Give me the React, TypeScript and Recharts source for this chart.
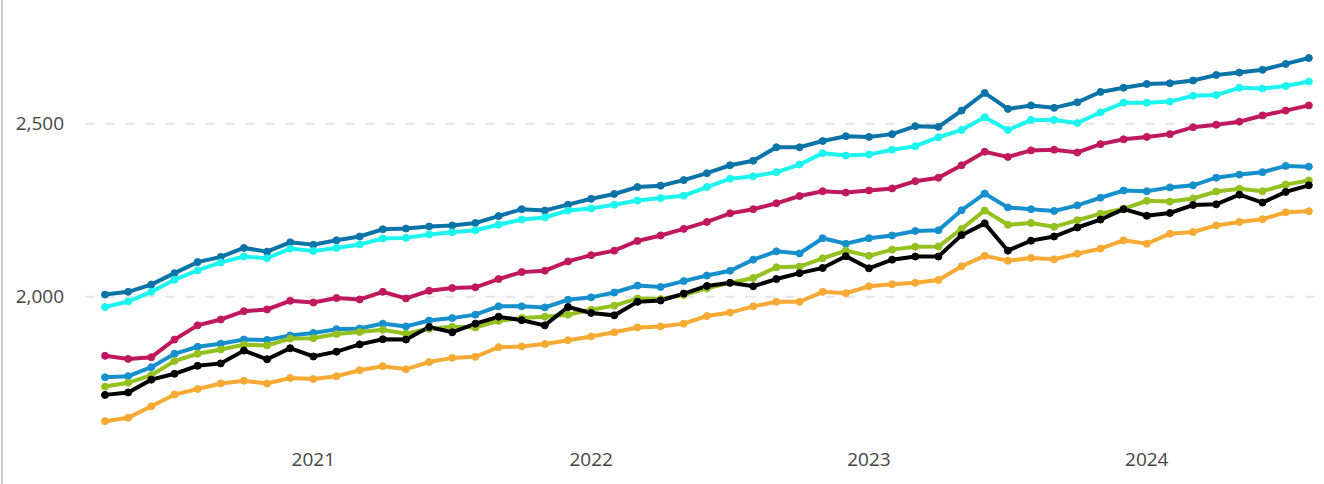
import { LineChart, Line, XAxis, YAxis, CartesianGrid } from "recharts";

const months = [
  "2020-04", "2020-05", "2020-06", "2020-07", "2020-08", "2020-09", "2020-10", "2020-11", "2020-12",
  "2021-01", "2021-02", "2021-03", "2021-04", "2021-05", "2021-06", "2021-07", "2021-08", "2021-09", "2021-10", "2021-11", "2021-12",
  "2022-01", "2022-02", "2022-03", "2022-04", "2022-05", "2022-06", "2022-07", "2022-08", "2022-09", "2022-10", "2022-11", "2022-12",
  "2023-01", "2023-02", "2023-03", "2023-04", "2023-05", "2023-06", "2023-07", "2023-08", "2023-09", "2023-10", "2023-11", "2023-12",
  "2024-01", "2024-02", "2024-03", "2024-04", "2024-05", "2024-06", "2024-07", "2024-08",
];

const yearTicks = ["2021-01", "2022-01", "2023-01", "2024-01"];
const valueTicks = [2000, 2500];

const seriesA = [
  2006, 2014, 2035, 2068, 2100, 2115, 2141, 2130, 2157, 2150, 2163, 2174, 2195, 2197, 2203, 2206, 2213, 2233,
  2253, 2249, 2266, 2283, 2297, 2317, 2321, 2337, 2357, 2380, 2393, 2432, 2432, 2450, 2464, 2462, 2470, 2493,
  2491, 2538, 2589, 2543, 2553, 2546, 2562, 2592, 2604, 2615, 2617, 2625, 2641, 2648, 2656, 2673, 2690,
];
const seriesB = [
  1970, 1986, 2014, 2049, 2076, 2099, 2116, 2111, 2139, 2132, 2141, 2151, 2168, 2170, 2180, 2186, 2192, 2208,
  2223, 2229, 2249, 2255, 2266, 2278, 2285, 2292, 2317, 2341, 2348, 2360, 2382, 2415, 2408, 2411, 2425, 2435,
  2461, 2482, 2519, 2482, 2511, 2511, 2502, 2533, 2561, 2561, 2564, 2581, 2583, 2604, 2602, 2609, 2622,
];
const seriesC = [
  1829, 1820, 1825, 1876, 1917, 1934, 1958, 1963, 1988, 1983, 1996, 1992, 2014, 1995, 2017, 2025, 2027, 2051,
  2071, 2075, 2102, 2120, 2133, 2161, 2177, 2196, 2216, 2241, 2253, 2270, 2291, 2305, 2301, 2307, 2313, 2334,
  2344, 2380, 2419, 2404, 2423, 2425, 2417, 2441, 2455, 2462, 2470, 2490, 2497, 2506, 2524, 2538, 2553,
];
const seriesD = [
  1767, 1770, 1796, 1835, 1855, 1864, 1876, 1875, 1888, 1895, 1906, 1908, 1922, 1914, 1931, 1938, 1948, 1972,
  1972, 1969, 1991, 1998, 2012, 2032, 2028, 2045, 2061, 2075, 2107, 2131, 2125, 2169, 2153, 2169, 2177, 2190,
  2192, 2250, 2298, 2258, 2253, 2248, 2264, 2286, 2307, 2305, 2316, 2322, 2344, 2353, 2360, 2378, 2376,
];
const seriesE = [
  1740, 1751, 1773, 1814, 1835, 1847, 1861, 1859, 1879, 1880, 1892, 1898, 1904, 1893, 1907, 1913, 1911, 1930,
  1938, 1942, 1948, 1962, 1974, 1995, 1993, 2005, 2024, 2040, 2054, 2085, 2087, 2111, 2133, 2118, 2136, 2144,
  2145, 2196, 2249, 2208, 2213, 2202, 2221, 2240, 2254, 2277, 2275, 2284, 2304, 2312, 2305, 2324, 2336,
];
const seriesF = [
  1640, 1650, 1683, 1717, 1733, 1749, 1757, 1749, 1765, 1762, 1770, 1787, 1799, 1790, 1811, 1823, 1826, 1854,
  1856, 1863, 1874, 1885, 1897, 1911, 1914, 1922, 1944, 1954, 1972, 1985, 1985, 2014, 2010, 2030, 2036, 2040,
  2048, 2088, 2118, 2104, 2112, 2108, 2124, 2139, 2163, 2153, 2182, 2187, 2206, 2216, 2224, 2244, 2247,
];
const seriesG = [
  1716, 1723, 1760, 1777, 1800, 1807, 1844, 1819, 1851, 1827, 1841, 1862, 1877, 1876, 1912, 1897, 1922, 1942,
  1932, 1917, 1970, 1953, 1946, 1985, 1989, 2009, 2031, 2040, 2030, 2051, 2068, 2083, 2117, 2082, 2107, 2116,
  2116, 2178, 2212, 2133, 2162, 2174, 2200, 2223, 2253, 2234, 2242, 2265, 2267, 2295, 2272, 2303, 2322,
];

const series = [
  { key: "a", values: seriesA, color: "#0a73a8" },
  { key: "b", values: seriesB, color: "#1cf5ef" },
  { key: "c", values: seriesC, color: "#c0185e" },
  { key: "d", values: seriesD, color: "#168fcd" },
  { key: "e", values: seriesE, color: "#93c11f" },
  { key: "f", values: seriesF, color: "#f6aa33" },
  { key: "g", values: seriesG, color: "#000000" },
];

const data = months.map((m, i) => {
  const row: Record<string, number | string> = { i, month: m };
  series.forEach((s) => {
    row[s.key] = s.values[i];
  });
  return row;
});

const tickStyle = { fontSize: 19, fill: "#444444", fontFamily: "'Segoe UI', 'Open Sans', sans-serif" };

export default function App() {
  return (
    <div style={{ position: "absolute", left: 0, top: 0, width: 1324, height: 484, background: "#fff" }}>
      <div style={{ position: "absolute", left: 1, top: 0, width: 2, height: 484, background: "#c8c8c8" }} />
      <LineChart width={1324} height={484} data={data} margin={{ top: 20, right: 8, bottom: 0, left: 0 }}>
        <CartesianGrid
          vertical={false}
          horizontalValues={valueTicks}
          stroke="#e6e6e6"
          strokeWidth={2}
          strokeDasharray="10 10"
        />
        <XAxis
          dataKey="i"
          type="number"
          domain={[-0.864, 52.31]}
          ticks={yearTicks.map((t) => months.indexOf(t))}
          tickFormatter={(v) => months[v].slice(0, 4)}
          axisLine={false}
          tickLine={false}
          tickSize={6}
          tickMargin={12}
          height={49}
          tick={tickStyle}
          allowDataOverflow
        />
        <YAxis
          domain={[1600, 2800]}
          ticks={valueTicks}
          tickFormatter={(v) => v.toLocaleString("en-US")}
          axisLine={false}
          tickLine={false}
          tickSize={6}
          tickMargin={15}
          width={85}
          tick={tickStyle}
        />
        {series.map((s) => (
          <Line
            key={s.key}
            dataKey={s.key}
            stroke={s.color}
            strokeWidth={4}
            dot={{ r: 3.5, fill: s.color, stroke: s.color, strokeWidth: 1 }}
            isAnimationActive={false}
          />
        ))}
      </LineChart>
    </div>
  );
}
